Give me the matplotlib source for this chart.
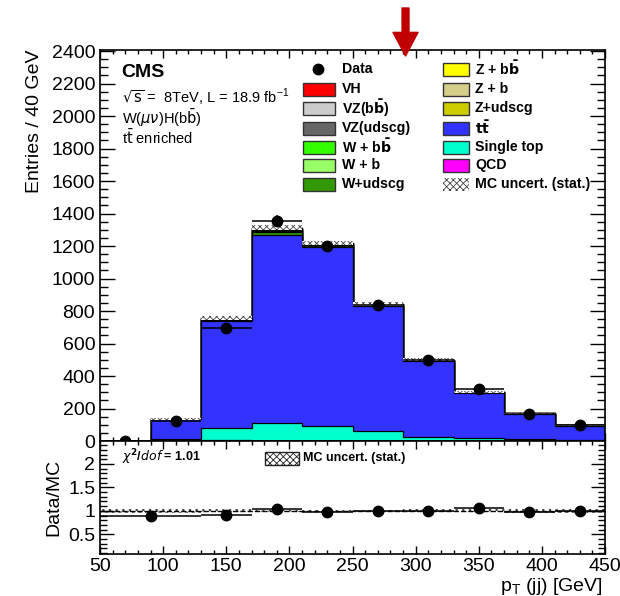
import numpy as np
import matplotlib
matplotlib.use("Agg")
import matplotlib.pyplot as plt
from matplotlib.patches import Rectangle
from matplotlib.lines import Line2D
from matplotlib.ticker import MultipleLocator

plt.rcParams['font.family'] = ['Liberation Sans', 'DejaVu Sans']
plt.rcParams['hatch.linewidth'] = 0.6

# binning (GeV)
edges = [50, 90, 130, 170, 210, 250, 290, 330, 370, 410, 450]
centers = [70, 110, 150, 190, 230, 270, 310, 350, 390, 430]

# stacked backgrounds, bottom to top
qcd       = [0, 0, 8, 0, 0, 0, 0, 0, 0, 0]
single_t  = [0, 14, 74, 109, 92, 61, 27, 20, 14, 4]
ttbar     = [0, 119, 656, 1162, 1102, 768, 464, 277, 152, 90]
w_udscg   = [0, 2, 8, 14, 10, 6, 4, 2, 2, 1]
w_b       = [0, 1, 2, 5, 3, 2, 1, 1, 0, 0]
w_bb      = [0, 1, 4, 10, 6, 4, 2, 2, 1, 1]
vz_udscg  = [0, 0, 2, 4, 2, 1, 1, 0, 1, 0]
vz_bb     = [0, 0, 1, 2, 1, 1, 0, 0, 0, 0]
z_udscg   = [0, 0, 2, 3, 2, 1, 1, 1, 0, 0]
z_b       = [0, 0, 0, 1, 1, 0, 0, 0, 0, 0]
z_bb      = [0, 0, 1, 1, 0, 0, 0, 0, 0, 0]
vh        = [0, 0, 0, 1, 1, 0, 0, 0, 0, 0]
mc_stat   = [0, 6, 12, 15, 14, 12, 9, 7, 5, 4]

data      = [3, 123, 695, 1353, 1199, 836, 498, 322, 164, 96]
data_err  = [2, 11, 26, 37, 35, 29, 22, 18, 13, 10]

# ratio panel (first bin merged 50-130)
ratio_edges = [50, 130, 170, 210, 250, 290, 330, 370, 410, 450]
ratio_x     = [90, 150, 190, 230, 270, 310, 350, 390, 430]
ratio_vals  = [0.89, 0.92, 1.03, 0.98, 0.99, 1.00, 1.06, 0.97, 1.00]
ratio_err   = [0.08, 0.04, 0.03, 0.03, 0.03, 0.045, 0.06, 0.075, 0.10]
ratio_band  = [0.04, 0.03, 0.02, 0.02, 0.02, 0.03, 0.03, 0.035, 0.045]

stack = [
    ('QCD', qcd, '#ff00ff'),
    ('Single top', single_t, '#00ffcc'),
    (r'$\mathbf{t\bar{t}}$', ttbar, '#3333ff'),
    ('W+udscg', w_udscg, '#339900'),
    ('W + b', w_b, '#99ff66'),
    (r'W + b$\mathbf{\bar{b}}$', w_bb, '#33ff00'),
    ('VZ(udscg)', vz_udscg, '#666666'),
    (r'VZ(b$\mathbf{\bar{b}}$)', vz_bb, '#cccccc'),
    ('Z+udscg', z_udscg, '#cccc00'),
    ('Z + b', z_b, '#d6cf8a'),
    (r'Z + b$\mathbf{\bar{b}}$', z_bb, '#ffff00'),
    ('VH', vh, '#ff0000'),
]

fig = plt.figure(figsize=(6.2, 5.96), dpi=100)
ax = fig.add_axes([100/620, 1-441/596, 505/620, 391.5/596])
rax = fig.add_axes([100/620, 1-554/596, 505/620, 113/596])

# cumulative histograms drawn from the top down, ROOT style
cum = np.cumsum([np.array(s[1], dtype=float) for s in stack], axis=0)
for i in range(len(stack) - 1, -1, -1):
    ax.stairs(cum[i], edges, fill=True, facecolor=stack[i][2],
              edgecolor='black', linewidth=0.9, zorder=2)

total = cum[-1]
ax.stairs(total + np.array(mc_stat), edges, baseline=total - np.array(mc_stat),
          fill=True, facecolor='white', hatch='xxxxx', edgecolor='#444444',
          linewidth=0, zorder=3)

ax.errorbar(centers, data, yerr=data_err, xerr=20, fmt='o', color='black',
            markersize=7.5, elinewidth=1.1, capsize=0, zorder=5)

ax.set_xlim(50, 450)
ax.set_ylim(0, 2410)
ax.xaxis.set_major_locator(MultipleLocator(50))
ax.xaxis.set_minor_locator(MultipleLocator(10))
ax.yaxis.set_major_locator(MultipleLocator(200))
ax.yaxis.set_minor_locator(MultipleLocator(50))
ax.tick_params(axis='both', which='both', direction='in', top=True, right=True,
               labelsize=14, width=1)
ax.tick_params(axis='x', which='major', length=6)
ax.tick_params(axis='x', which='minor', length=3)
ax.tick_params(axis='y', which='major', length=11)
ax.tick_params(axis='y', which='minor', length=6)
ax.tick_params(axis='x', labelbottom=False)
for sp in ax.spines.values():
    sp.set_linewidth(1.2)
ax.set_ylabel('Entries / 40 GeV', fontsize=14, loc='top', labelpad=6)

# header text
ax.text(0.043, 0.962, 'CMS', transform=ax.transAxes, fontsize=14,
        fontweight='bold', va='top')
ax.text(0.043, 0.905, r'$\sqrt{\rm s}$ =  8TeV, L = 18.9 fb$^{\mathregular{-1}}$',
        transform=ax.transAxes, fontsize=10.5, va='top')
ax.text(0.043, 0.852, r'W($\mu\nu$)H(b$\bar{\rm b}$)', transform=ax.transAxes,
        fontsize=10.5, va='top')
ax.text(0.043, 0.800, r't$\bar{\rm t}$ enriched', transform=ax.transAxes,
        fontsize=10.5, va='top')

# legend drawn by hand in figure pixels
def fpix(x, y):
    return x/620, 1 - y/596

col1 = [('Data', None), ('VH', '#ff0000'), (r'VZ(b$\mathbf{\bar{b}}$)', '#cccccc'),
        ('VZ(udscg)', '#666666'), (r'W + b$\mathbf{\bar{b}}$', '#33ff00'),
        ('W + b', '#99ff66'), ('W+udscg', '#339900')]
col2 = [(r'Z + b$\mathbf{\bar{b}}$', '#ffff00'), ('Z + b', '#d6cf8a'),
        ('Z+udscg', '#cccc00'), (r'$\mathbf{t\bar{t}}$', '#3333ff'),
        ('Single top', '#00ffcc'), ('QCD', '#ff00ff'),
        ('MC uncert. (stat.)', 'hatch')]
rows = [69, 89, 108, 128, 147, 165, 184]
for (lab, col), y in zip(col1, rows):
    if col is None:
        x0, y0 = fpix(318, y)
        fig.add_artist(Line2D([x0], [y0], marker='o', color='black', markersize=7.5))
    else:
        x0, y0 = fpix(303, y + 7)
        fig.add_artist(Rectangle((x0, y0), 32/620, 13/596, facecolor=col,
                                 edgecolor='#333333', linewidth=1))
    tx, ty = fpix(342, y)
    fig.text(tx, ty, lab, fontsize=10.2, fontweight='bold', va='center')
for (lab, col), y in zip(col2, rows):
    x0, y0 = fpix(443, y + 7)
    if col == 'hatch':
        fig.add_artist(Rectangle((x0, y0), 26/620, 13/596, facecolor='white',
                                 hatch='xxxxx', edgecolor='#444444', linewidth=0))
    else:
        fig.add_artist(Rectangle((x0, y0), 26/620, 13/596, facecolor=col,
                                 edgecolor='#333333', linewidth=1))
    tx, ty = fpix(475, y)
    fig.text(tx, ty, lab, fontsize=10.2, fontweight='bold', va='center')

# ratio panel
band = np.array(ratio_band)
rax.stairs(1 + band, ratio_edges, baseline=1 - band, fill=True, facecolor='white',
           hatch='xxxxx', edgecolor='#444444', linewidth=0, zorder=1)
rax.axhline(1.0, color='black', linestyle='--', linewidth=1, zorder=2)
xerr = [[c - lo for c, lo in zip(ratio_x, ratio_edges[:-1])],
        [hi - c for c, hi in zip(ratio_x, ratio_edges[1:])]]
rax.errorbar(ratio_x, ratio_vals, yerr=ratio_err, xerr=xerr, fmt='o',
             color='black', markersize=7.5, elinewidth=1.1, capsize=0, zorder=4)
rax.set_xlim(50, 450)
rax.set_ylim(0.08, 2.49)
rax.xaxis.set_major_locator(MultipleLocator(50))
rax.xaxis.set_minor_locator(MultipleLocator(10))
rax.yaxis.set_minor_locator(MultipleLocator(0.1))
rax.set_yticks([0.5, 1, 1.5, 2])
rax.set_yticklabels(['0.5', '1', '1.5', '2'])
rax.tick_params(axis='both', which='both', direction='in', top=True, right=True,
                labelsize=14, width=1)
rax.tick_params(axis='x', which='major', length=6, pad=3)
rax.tick_params(axis='x', which='minor', length=3)
rax.tick_params(axis='y', which='major', length=10)
rax.tick_params(axis='y', which='minor', length=5)
for sp in rax.spines.values():
    sp.set_linewidth(1.2)
rax.set_ylabel('Data/MC', fontsize=14, labelpad=4)
tx, ty = fpix(603, 591)
fig.text(tx, ty, r'p$_{\mathregular{T}}$ (jj) [GeV]', fontsize=14,
         ha='right', va='baseline')

rax.text(0.043, 0.86, r'$\chi^{\mathbf{2}}$/$\mathit{dof}$ = 1.01', transform=rax.transAxes,
         fontsize=9, fontweight='bold', va='center')
x0, y0 = fpix(265, 465)
fig.add_artist(Rectangle((x0, y0), 34/620, 13/596, facecolor='white', hatch='xxxxx',
                         edgecolor='#222222', linewidth=1))
tx, ty = fpix(303, 458)
fig.text(tx, ty, 'MC uncert. (stat.)', fontsize=9, fontweight='bold', va='center')

# signal window arrow above the frame
ax.annotate('', xy=(292, 540), xycoords=('data', 'figure pixels'),
            xytext=(292, 588), textcoords=('data', 'figure pixels'),
            arrowprops=dict(arrowstyle='simple,head_length=0.85,head_width=0.9,tail_width=0.25',
                            color='#c00000', mutation_scale=20, shrinkA=0, shrinkB=0),
            annotation_clip=False)

fig.savefig('out.png', dpi=100)
